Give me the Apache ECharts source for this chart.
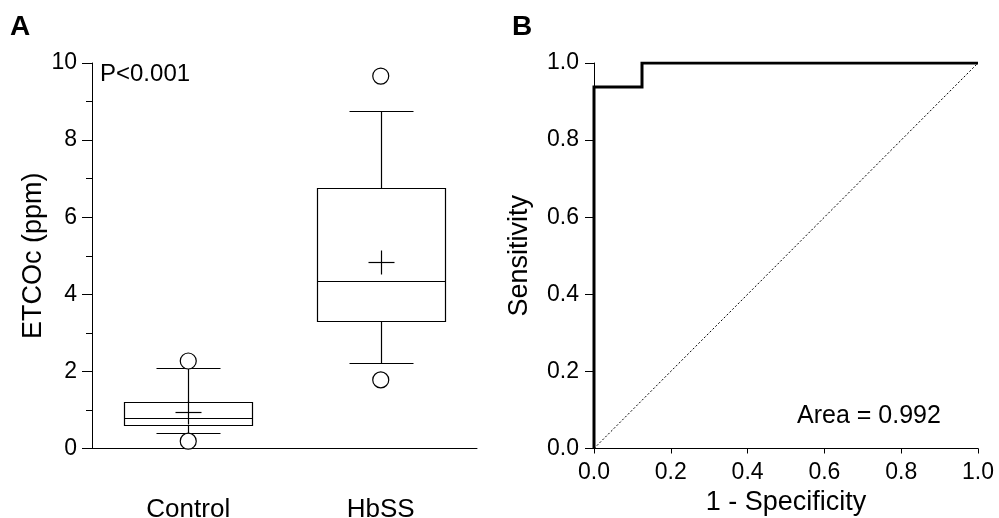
<!DOCTYPE html>
<html>
<head>
<meta charset="utf-8">
<script src="https://cdn.jsdelivr.net/npm/echarts@6/dist/echarts.min.js"></script>
<style>
html, body { margin: 0; padding: 0; background: #fff; }
#main { width: 999px; height: 518px; }
</style>
</head>
<body>
<div id="main"></div>
<script>
// panel A - box plots
var groups = ['Control', 'HbSS']
var whiskerLow = [0.41, 2.21]
var q1 = [0.62, 3.32]
var median = [0.80, 4.34]
var q3 = [1.20, 6.77]
var whiskerHigh = [2.08, 8.76]
var means = [0.95, 4.83]
var outlierGroup = [0, 0, 1, 1]
var outlierValue = [2.27, 0.19, 9.66, 1.78]

// panel B - ROC
var fpr = [0, 0, 0.125, 0.125, 1]
var tpr = [0, 0.9375, 0.9375, 1, 1]
var refX = [0, 1]
var refY = [0, 1]

var FONT = 'Liberation Sans, Arial, sans-serif'

var boxData = groups.map(function (g, i) {
	return [i, whiskerLow[i], q1[i], median[i], q3[i], whiskerHigh[i], means[i]]
})
var outlierData = outlierGroup.map(function (g, k) {
	return [g, outlierValue[k]]
})
var rocData = fpr.map(function (x, k) { return [x, tpr[k]] })
var refData = refX.map(function (x, k) { return [x, refY[k]] })

function px(v) { return Math.round(v) + 0.5 }

function renderBox(params, api) {
	var i = api.value(0)
	var band = api.size([1, 0])[0]
	var x = px(api.coord([i, 0])[0])
	var yLo = px(api.coord([i, api.value(1)])[1])
	var yQ1 = px(api.coord([i, api.value(2)])[1])
	var yMed = px(api.coord([i, api.value(3)])[1])
	var yQ3 = px(api.coord([i, api.value(4)])[1])
	var yHi = px(api.coord([i, api.value(5)])[1])
	var yMean = px(api.coord([i, api.value(6)])[1])
	var bw = Math.round(band * 0.665 / 2)
	var cw = Math.round(band * 0.333 / 2)
	var mw = Math.round(band * 0.065)
	var st = { stroke: '#000', lineWidth: 1.2, fill: null }
	function ln(x1, y1, x2, y2) {
		return { type: 'line', shape: { x1: x1, y1: y1, x2: x2, y2: y2 }, style: st }
	}
	return {
		type: 'group',
		children: [
			{ type: 'rect', shape: { x: x - bw, y: yQ3, width: bw * 2, height: yQ1 - yQ3 }, style: st },
			ln(x - bw, yMed, x + bw, yMed),
			ln(x, yQ3, x, yHi),
			ln(x, yQ1, x, yLo),
			ln(x - cw, yHi, x + cw, yHi),
			ln(x - cw, yLo, x + cw, yLo),
			ln(x - mw, yMean, x + mw, yMean),
			ln(x, yMean - 12, x, yMean + 12)
		]
	}
}

var myChart = echarts.init(document.getElementById('main'))

var axisLine = { lineStyle: { color: '#000', width: 1 } }
var labelStyle = { color: '#000', fontSize: 23, fontFamily: FONT }
var nameStyle = { color: '#000', fontSize: 27, fontFamily: FONT }

var option = {
	animation: false,
	backgroundColor: '#fff',
	grid: [
		{ left: 92, top: 63, width: 385, height: 385.5, outerBoundsMode: 'none', containLabel: false },
		{ left: 594, top: 63, width: 384, height: 385.5, outerBoundsMode: 'none', containLabel: false }
	],
	xAxis: [{
		gridIndex: 0,
		type: 'category',
		data: groups,
		axisLine: axisLine,
		axisTick: { alignWithLabel: true, length: 10, lineStyle: { color: '#000' } },
		axisLabel: { color: '#000', fontSize: 26, fontFamily: FONT, margin: 48 },
		splitLine: { show: false }
	}, {
		gridIndex: 1,
		type: 'value',
		min: 0,
		max: 1,
		interval: 0.2,
		name: '1 - Specificity',
		nameLocation: 'middle',
		nameGap: 37,
		nameTextStyle: nameStyle,
		axisLine: axisLine,
		axisTick: { length: 5, lineStyle: { color: '#000' } },
		axisLabel: Object.assign({ margin: 13, formatter: function (v) { return v.toFixed(1) } }, labelStyle),
		splitLine: { show: false }
	}],
	yAxis: [{
		gridIndex: 0,
		type: 'value',
		min: 0,
		max: 10,
		interval: 2,
		name: 'ETCOc (ppm)',
		nameLocation: 'middle',
		nameGap: 45,
		nameTextStyle: nameStyle,
		axisLine: { show: true, lineStyle: { color: '#000', width: 1 } },
		axisTick: { show: true, length: 10, lineStyle: { color: '#000' } },
		minorTick: { show: true, splitNumber: 2, length: 6, lineStyle: { color: '#000' } },
		axisLabel: Object.assign({ margin: 15 }, labelStyle),
		splitLine: { show: false }
	}, {
		gridIndex: 1,
		type: 'value',
		min: 0,
		max: 1,
		interval: 0.2,
		name: 'Sensitivity',
		nameLocation: 'middle',
		nameGap: 61,
		nameTextStyle: nameStyle,
		axisLine: { show: true, lineStyle: { color: '#000', width: 1 } },
		axisTick: { show: true, length: 9, lineStyle: { color: '#000' } },
		axisLabel: Object.assign({ margin: 15, formatter: function (v) { return v.toFixed(1) } }, labelStyle),
		splitLine: { show: false }
	}],
	series: [{
		type: 'custom',
		xAxisIndex: 0,
		yAxisIndex: 0,
		renderItem: renderBox,
		encode: { x: 0, y: [1, 5] },
		data: boxData,
		z: 2
	}, {
		type: 'scatter',
		xAxisIndex: 0,
		yAxisIndex: 0,
		symbol: 'circle',
		symbolSize: 16,
		itemStyle: { color: '#fff', borderColor: '#000', borderWidth: 1.2, opacity: 1 },
		data: outlierData,
		z: 3
	}, {
		type: 'line',
		xAxisIndex: 1,
		yAxisIndex: 1,
		data: refData,
		showSymbol: false,
		lineStyle: { color: '#000', width: 1, type: [2, 2] },
		z: 2
	}, {
		type: 'line',
		xAxisIndex: 1,
		yAxisIndex: 1,
		data: rocData,
		showSymbol: false,
		lineStyle: { color: '#000', width: 3, join: 'miter' },
		z: 3
	}],
	graphic: [
		{ type: 'text', left: 10, top: 13, style: { text: 'A', font: 'bold 28px ' + FONT, fill: '#000' } },
		{ type: 'text', left: 512, top: 13, style: { text: 'B', font: 'bold 28px ' + FONT, fill: '#000' } },
		{ type: 'text', x: 100, y: 74, style: { text: 'P<0.001', font: '24px ' + FONT, fill: '#000', verticalAlign: 'middle' } },
		{ type: 'text', x: 797, y: 416, style: { text: 'Area = 0.992', font: '25px ' + FONT, fill: '#000', verticalAlign: 'middle' } }
	]
}

myChart.setOption(option)
</script>
</body>
</html>
